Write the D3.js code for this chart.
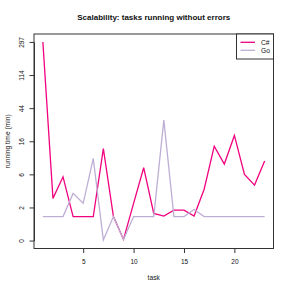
<!DOCTYPE html>
<html>
<head>
<meta charset="utf-8">
<script src="https://cdn.jsdelivr.net/npm/d3@7"></script>
<style>
  body { margin: 0; background: #fff; }
  text { font-family: "Liberation Sans", Arial, sans-serif; fill: #111; }
</style>
</head>
<body>
<svg id="chart"></svg>
<script>
const tasks = d3.range(1, 24);
// running time in minutes
const csharp = [297, 3.1, 5.7, 1.45, 1.45, 1.45, 13.8, 1.45, 0.07, 2.5, 8.0, 1.64,
  1.48, 1.84, 1.84, 1.48, 4.2, 14.5, 9.1, 20.9, 6.0, 4.7, 10.0];
const golang = [1.45, 1.45, 1.45, 3.7, 2.5, 10.8, 0.03, 1.45, 0.07, 1.45, 1.45, 1.45,
  33.9, 1.45, 1.45, 1.88, 1.45, 1.45, 1.45, 1.45, 1.45, 1.45, 1.45];
const yTicks = [0, 2, 6, 16, 44, 114, 297];
const xTicks = [5, 10, 15, 20];
const seriesNames = ['C#', 'Go'];
const colors = ['#F0027F', '#BEAED4'];

const width = 291;
const height = 291;
const margin = { top: 34, right: 17.5, bottom: 42.5, left: 34 };

const svg = d3.select('#chart')
  .attr('width', width)
  .attr('height', height);

// R style 4% padding on both axes
const xExt = (23 - 1) * 0.04;
const x = d3.scaleLinear()
  .domain([1 - xExt, 23 + xExt])
  .range([margin.left, width - margin.right]);

// ticks are evenly spaced, so go through the tick index
const yIdx = d3.scaleLinear()
  .domain([-0.24, 6.24])
  .range([height - margin.bottom, margin.top]);
const y = d3.scaleLinear()
  .domain(yTicks)
  .range(yTicks.map((d, i) => yIdx(i)));

const line = d3.line()
  .x((d, i) => x(tasks[i]))
  .y(d => y(d));

const g = svg.append('g');

[csharp, golang].forEach((s, k) => {
  g.append('path')
    .datum(s)
    .attr('d', line)
    .attr('fill', 'none')
    .attr('stroke', colors[k])
    .attr('stroke-width', 1.3)
    .attr('stroke-linejoin', 'miter');
});

// box
svg.append('rect')
  .attr('x', margin.left)
  .attr('y', margin.top)
  .attr('width', width - margin.left - margin.right)
  .attr('height', height - margin.top - margin.bottom)
  .attr('fill', 'none')
  .attr('stroke', '#333')
  .attr('stroke-width', 1);

// x axis
const xAxis = svg.append('g')
  .attr('transform', `translate(0, ${height - margin.bottom})`)
  .call(d3.axisBottom(x).tickValues(xTicks).tickSize(4.5).tickPadding(6));
xAxis.select('.domain').remove();
xAxis.selectAll('line').attr('stroke', '#333');
xAxis.selectAll('text')
  .style('font-family', '"Liberation Sans", Arial, sans-serif')
  .style('font-size', '6.5px')
  .attr('fill', '#111');

// y axis
const yAxis = svg.append('g')
  .attr('transform', `translate(${margin.left}, 0)`)
  .call(d3.axisLeft(y).tickValues(yTicks).tickFormat(d3.format('d')).tickSize(4.5).tickSizeOuter(0));
yAxis.select('.domain').attr('stroke', '#333');
yAxis.selectAll('line').attr('stroke', '#333');
yAxis.selectAll('text')
  .style('font-family', '"Liberation Sans", Arial, sans-serif')
  .style('font-size', '6.5px')
  .attr('fill', '#111')
  .attr('x', 0)
  .attr('dy', 0)
  .attr('text-anchor', 'middle')
  .attr('transform', 'translate(-10, 0) rotate(-90)');

// titles
svg.append('text')
  .text('Scalability: tasks running without errors')
  .attr('x', (margin.left + width - margin.right) / 2)
  .attr('y', 19.5)
  .attr('text-anchor', 'middle')
  .style('font-weight', 'bold')
  .style('font-size', '8px');

svg.append('text')
  .text('task')
  .attr('x', (margin.left + width - margin.right) / 2)
  .attr('y', 279.5)
  .attr('text-anchor', 'middle')
  .style('font-size', '6.7px');

svg.append('text')
  .text('running time (min)')
  .attr('transform', `translate(9.7, ${(margin.top + height - margin.bottom) / 2}) rotate(-90)`)
  .attr('text-anchor', 'middle')
  .style('font-size', '6.7px');

// legend, top right inside the box
const legW = 37;
const legH = 25;
const leg = svg.append('g')
  .attr('transform', `translate(${width - margin.right - legW}, ${margin.top})`);
leg.append('rect')
  .attr('width', legW)
  .attr('height', legH)
  .attr('fill', '#fff')
  .attr('stroke', '#333');
seriesNames.forEach((name, i) => {
  leg.append('line')
    .attr('x1', 4).attr('x2', 18.5)
    .attr('y1', 8.3 + i * 8).attr('y2', 8.3 + i * 8)
    .attr('stroke', colors[i])
    .attr('stroke-width', 1.3);
  leg.append('text')
    .text(name)
    .attr('x', 24.5)
    .attr('y', 10.6 + i * 8)
    .style('font-size', '6.7px');
});
</script>
</body>
</html>
